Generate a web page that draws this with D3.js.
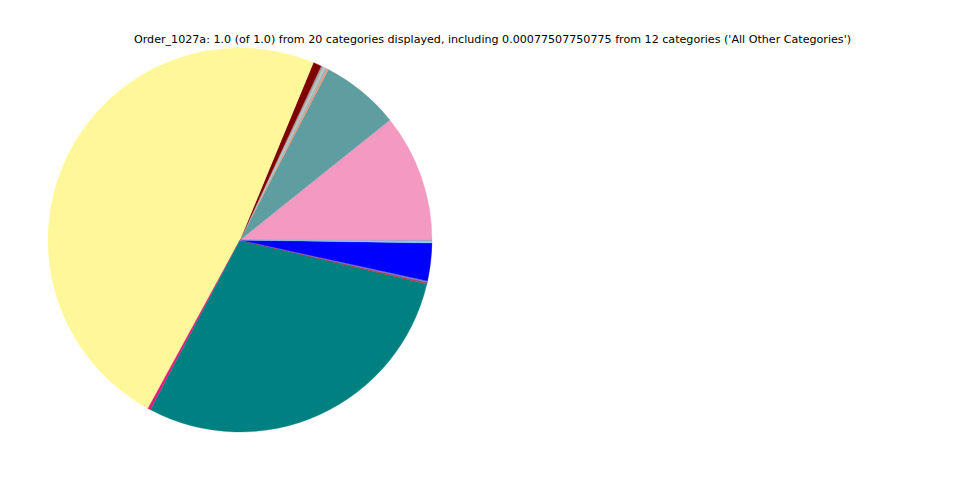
<!DOCTYPE html>
<html>
<head>
<meta charset="utf-8">
<script src="https://cdn.jsdelivr.net/npm/d3@7"></script>
<style>
  html, body { margin: 0; padding: 0; background: #ffffff; }
  svg { display: block; }
</style>
</head>
<body>
<svg id="chart" width="960" height="480"></svg>
<script>
// Data, in matplotlib's counterclockwise order starting at 3 o'clock
const categories = [
  "Cat A", "Cat B", "Cat C", "Cat D", "Cat E", "Cat F", "Cat G", "Cat H",
  "Cat I", "Cat J", "Cat K", "Cat L", "Cat M", "Cat N", "Cat O",
  "Cat P", "Cat Q", "Cat R", "Cat S", "All Other Categories"
];
const values = [
  0.1075, 0.0664, 0.0017, 0.0014, 0.0019, 0.0017, 0.0070, 0.4830,
  0.0024, 0.2904, 0.0008, 0.0002, 0.0002, 0.0002, 0.0002,
  0.0002, 0.0008, 0.0318, 0.0014, 0.0011
];
const colors = [
  "#f49ac2", "#5f9ea0", "#e9967a", "#8fbcbc", "#c0c0c0", "#a0a0a0", "#800000", "#fff799",
  "#e6177f", "#008080", "#c0392b", "#b03a48", "#a04060", "#905078", "#886090",
  "#8080c0", "#8080c0", "#0000ff", "#87cefa", "#a0a8c8"
];
const titleText = "Order_1027a: 1.0 (of 1.0) from 20 categories displayed, including 0.00077507750775 from 12 categories ('All Other Categories')";

const svg = d3.select("#chart");
const cx = 240, cy = 240, R = 192;

const data = categories.map((c, i) => ({ name: c, value: values[i], color: colors[i] }));

const pie = d3.pie()
  .sort(null)
  .value(d => d.value)
  .startAngle(Math.PI / 2)
  .endAngle(Math.PI / 2 - 2 * Math.PI);

const arc = d3.arc().innerRadius(0).outerRadius(R);

const g = svg.append("g").attr("transform", `translate(${cx},${cy})`);
g.selectAll("path")
  .data(pie(data))
  .join("path")
  .attr("d", arc)
  .attr("fill", d => d.data.color)
  .attr("stroke", d => d.data.color)
  .attr("stroke-width", 0.3);

svg.append("text")
  .attr("x", 492.5)
  .attr("y", 43)
  .attr("text-anchor", "middle")
  .attr("font-family", "DejaVu Sans, sans-serif")
  .attr("font-size", 11.12)
  .attr("fill", "#000")
  .text(titleText);
</script>
</body>
</html>
